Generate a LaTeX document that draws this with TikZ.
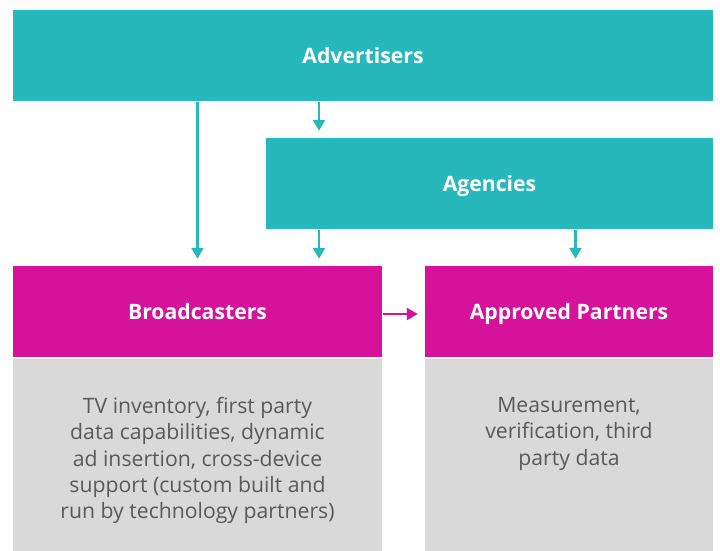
\documentclass[tikz,border=0pt]{standalone}
\usepackage{fontspec}
\setmainfont{Open Sans}
\usetikzlibrary{arrows.meta,positioning}
\definecolor{tealbox}{HTML}{27B8BC}
\definecolor{pinkbox}{HTML}{D6129A}
\definecolor{greybox}{HTML}{D9D9D9}
\definecolor{greytext}{HTML}{595959}

\begin{document}
\begin{tikzpicture}[x=1pt,y=-1pt,>={Triangle[width=12pt,length=11pt]},
  shorten >=6pt,line width=2.4pt,
  head node/.style={rectangle,inner sep=0pt,minimum height=91pt,text=white,
    text height=17pt,text depth=1.5pt,font=\bfseries\fontsize{21.2}{24}\selectfont},
  info node/.style={rectangle,inner sep=0pt,fill=greybox,anchor=north},
  info text/.style={text=greytext,align=center,anchor=north,inner sep=0pt,
    font=\fontsize{21.2}{26.3}\selectfont}]
% frame
\useasboundingbox (0,0) rectangle (720,550);

% top rows
  \node[head node,fill=tealbox,minimum width=700pt] (adv) at (363,55.5) {Advertisers};
  \node[head node,fill=tealbox,minimum width=447pt] (agn) at (489.5,183.5) {Agencies};

% bottom row
  \node[head node,fill=pinkbox,minimum width=369pt] (brd) at (197.5,311.5) {Broadcasters};
  \node[head node,fill=pinkbox,minimum width=288pt] (apr) at (569,311.5) {Approved Partners};

  \node[info node,minimum width=369pt,minimum height=194pt] (brdinfo) at (brd.south) {};
  \node[info text] (brdtext) at ([yshift=-38pt]brd.south)
    {TV inventory, first party\\data capabilities, dynamic\\ad insertion, cross-device\\support (custom built and\\run by technology partners)};
  \node[info node,minimum width=288pt,minimum height=194pt] (aprinfo) at (apr.south) {};
  \node[info text] (aprtext) at ([yshift=-38pt]apr.south)
    {Measurement,\\verification, third\\party data};

% arrows
  \draw[->,tealbox] (adv.south -| brd.north) -- (brd.north);
  \draw[->,tealbox] ([xshift=-170.5pt]agn.north |- adv.south) -- ([xshift=-170.5pt]agn.north);
  \draw[->,tealbox] ([xshift=-170.5pt]agn.south) -- ([xshift=-170.5pt]agn.south |- brd.north);
  \draw[->,tealbox] ([xshift=86pt]agn.south) -- ([xshift=86pt]agn.south |- apr.north);
  \draw[->,pinkbox] ([yshift=-2.5pt]brd.east) -- ([yshift=-2.5pt]apr.west);

\end{tikzpicture}
\end{document}
